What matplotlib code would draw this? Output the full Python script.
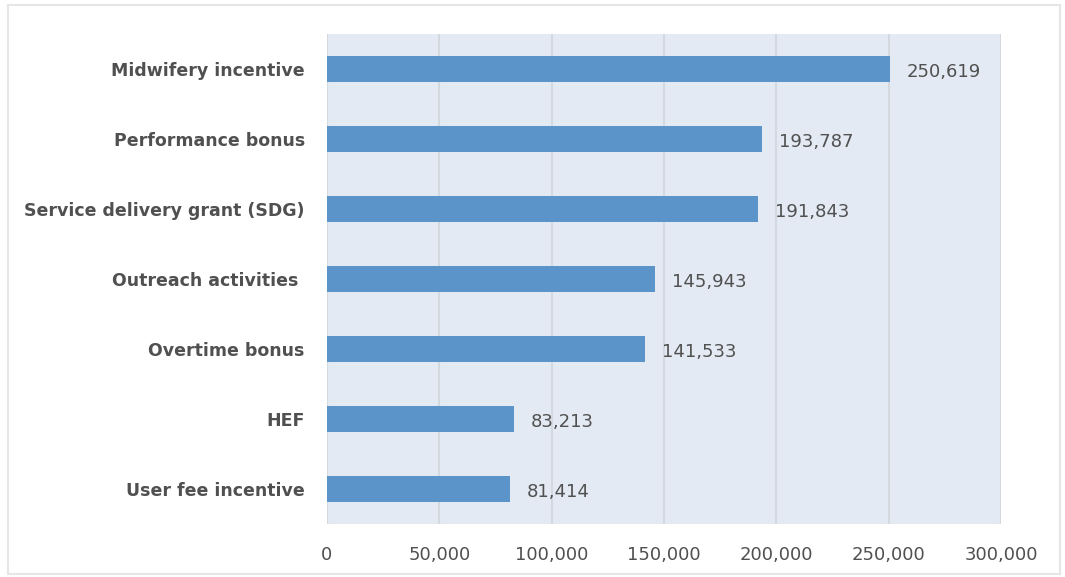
import matplotlib.pyplot as plt
from matplotlib.patches import Rectangle
from matplotlib.ticker import FuncFormatter

categories = [
    "User fee incentive",
    "HEF",
    "Overtime bonus",
    "Outreach activities ",
    "Service delivery grant (SDG)",
    "Performance bonus",
    "Midwifery incentive",
]
values = [81414, 83213, 141533, 145943, 191843, 193787, 250619]

BAR = "#5b94c9"
BG = "#e3eaf3"
GRID = "#d4d9df"
TXT = "#505050"

plt.rcParams["font.family"] = ["DejaVu Sans"]

fig = plt.figure(figsize=(10.65, 5.77), dpi=100)
fig.patches.append(Rectangle((8 / 1065, 3 / 577), 1052 / 1065, 569 / 577,
                             transform=fig.transFigure, fill=False,
                             edgecolor="#e6e6e6", linewidth=1.5))

ax = fig.add_axes([327 / 1065, 53 / 577, 674 / 1065, 490 / 577])
ax.set_facecolor(BG)

y = range(len(categories))
ax.barh(y, values, height=0.36, color=BAR, zorder=3)
for yi, v in zip(y, values):
    ax.annotate(f"{v:,}", (v, yi), xytext=(12, -2), textcoords="offset points",
                va="center", ha="left", fontsize=13, color=TXT, zorder=4)

ax.set_xlim(0, 300000)
ax.set_ylim(-0.5, len(categories) - 0.5)
ax.set_xticks(range(0, 300001, 50000))
ax.xaxis.set_major_formatter(FuncFormatter(lambda x, _: f"{int(x):,}"))
ax.set_yticks(list(y))
ax.set_yticklabels(categories, fontweight="bold")
ax.tick_params(axis="x", length=0, pad=16, labelsize=13, labelcolor=TXT)
ax.tick_params(axis="y", length=0, pad=16, labelsize=12.5, labelcolor=TXT)
ax.grid(axis="x", color=GRID, linewidth=1.5, zorder=1)
for s in ax.spines.values():
    s.set_visible(False)

fig.savefig("out.png", dpi=100)
